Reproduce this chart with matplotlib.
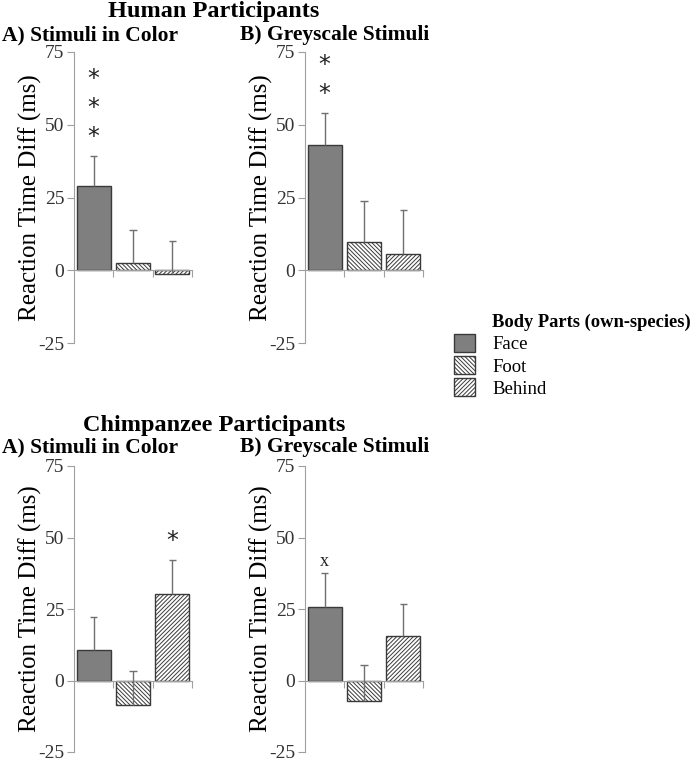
import matplotlib
matplotlib.use("Agg")
import matplotlib.pyplot as plt
from matplotlib.patches import Patch

plt.rcParams["font.family"] = "Liberation Serif"
plt.rcParams["hatch.linewidth"] = 0.7
plt.rcParams["axes.unicode_minus"] = False

categories = ["Face", "Foot", "Behind"]

human_color = [28.8, 2.5, -1.2]
human_color_se = [10.5, 11.3, 11.2]
human_grey = [43.0, 9.8, 5.6]
human_grey_se = [11.1, 14.0, 15.2]

chimp_color = [10.6, -8.6, 30.1]
chimp_color_se = [11.7, 12.0, 12.1]
chimp_grey = [25.8, -7.0, 15.4]
chimp_grey_se = [11.7, 12.5, 11.4]

# significance marks: (bar index, symbol, how many stacked)
human_color_marks = (0, "*", 3)
human_grey_marks = (0, "*", 2)
chimp_color_marks = (2, "*", 1)
chimp_grey_marks = (0, "x", 1)

W, H = 695, 762
fig = plt.figure(figsize=(W / 100, H / 100), dpi=100)

face_col = "#7f7f7f"
edge_col = "#3a3a3a"
axis_col = "#a0a0a0"
hatches = ["", "\\" * 8, "/" * 8]
colors = [face_col, "white", "white"]


def add_ax(left, right, top, bottom):
    return fig.add_axes([left / W, 1 - bottom / H, (right - left) / W, (bottom - top) / H])


def panel(ax, vals, se, marks):
    x = list(range(len(vals)))
    ax.bar(x, vals, width=0.87, color=colors, edgecolor=edge_col, hatch=hatches,
           linewidth=1.0, zorder=2)
    tops = [v + s for v, s in zip(vals, se)]
    ax.vlines(x, vals, tops, color="#707070", linewidth=1.0, zorder=3)
    ax.hlines(tops, [i - 0.09 for i in x], [i + 0.09 for i in x], color="#707070",
              linewidth=1.0, zorder=3)
    idx, sym, n = marks
    for k in range(n):
        if sym == "*":
            ax.text(idx, tops[idx] + 6.5 + k * 9.9, sym, ha="center", va="center",
                    fontsize=17, family="DejaVu Sans", color="#222222")
        else:
            ax.text(idx, tops[idx] + 4.2, sym, ha="center", va="center",
                    fontsize=13, color="#222222")
    ax.set_xlim(-0.5, 2.5)
    ax.set_ylim(-25, 75)
    ax.set_yticks([-25, 0, 25, 50, 75])
    ax.set_xticks([0.5, 1.5, 2.5])
    ax.set_xticklabels([])
    for s in ["top", "right"]:
        ax.spines[s].set_visible(False)
    ax.spines["bottom"].set_position(("data", 0))
    ax.spines["left"].set_color(axis_col)
    ax.spines["bottom"].set_color(axis_col)
    ax.tick_params(axis="both", direction="out", length=5, color=axis_col,
                   labelsize=14, labelcolor="#333333", pad=2)
    ax.patch.set_alpha(0)
    ax.set_ylabel("Reaction Time Diff (ms)", fontsize=18, labelpad=-3)


ax1 = add_ax(74, 192, 52, 343)
panel(ax1, human_color, human_color_se, human_color_marks)
ax2 = add_ax(305, 423, 52, 343)
panel(ax2, human_grey, human_grey_se, human_grey_marks)
ax3 = add_ax(74, 192, 466, 752)
panel(ax3, chimp_color, chimp_color_se, chimp_color_marks)
ax4 = add_ax(305, 423, 466, 752)
panel(ax4, chimp_grey, chimp_grey_se, chimp_grey_marks)

fig.text(214 / W, 1 - 12 / H, "Human Participants", ha="center", va="center",
         fontsize=17.5, fontweight="bold")
fig.text(2 / W, 1 - 35 / H, "A) Stimuli in Color", ha="left", va="center",
         fontsize=15.5, fontweight="bold")
fig.text(240 / W, 1 - 35 / H, "B) Greyscale Stimuli", ha="left", va="center",
         fontsize=15.5, fontweight="bold")
fig.text(214 / W, 1 - 425 / H, "Chimpanzee Participants", ha="center", va="center",
         fontsize=17.5, fontweight="bold")
fig.text(2 / W, 1 - 447 / H, "A) Stimuli in Color", ha="left", va="center",
         fontsize=15.5, fontweight="bold")
fig.text(240 / W, 1 - 447 / H, "B) Greyscale Stimuli", ha="left", va="center",
         fontsize=15.5, fontweight="bold")

handles = [Patch(facecolor=c, edgecolor=edge_col, hatch=h, linewidth=1.0)
           for c, h in zip(colors, hatches)]
fig.text(492 / W, 1 - 322 / H, "Body Parts (own-species)", ha="left", va="center",
         fontsize=13.3, fontweight="bold")
fig.legend(handles, categories, loc="upper left", bbox_to_anchor=(454 / W, 1 - 334 / H),
           frameon=False, fontsize=13.5, borderpad=0, borderaxespad=0,
           handlelength=1.1, handleheight=1.1, handletextpad=0.95, labelspacing=0.15)

fig.savefig("out.png", dpi=100)
